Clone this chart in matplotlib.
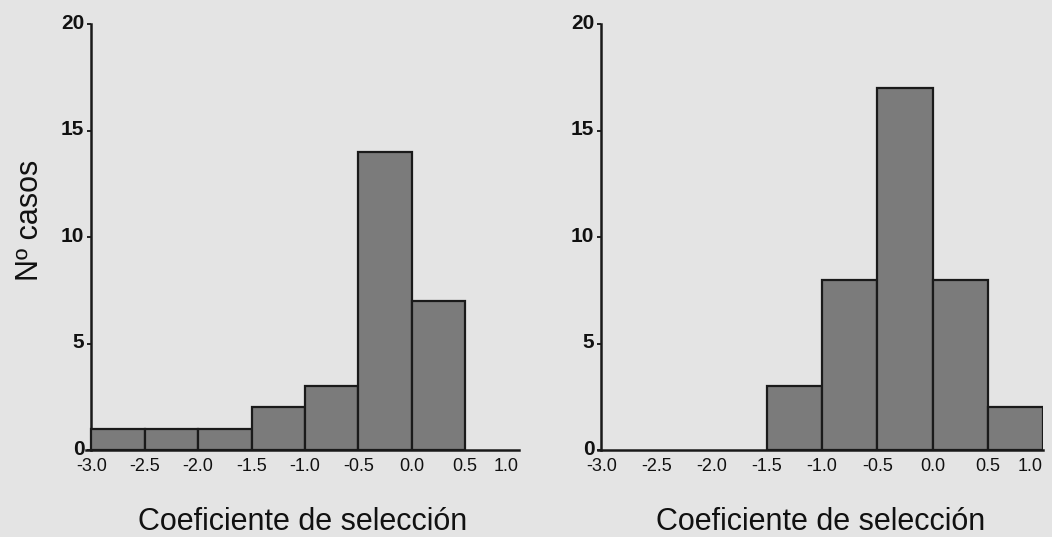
import matplotlib
matplotlib.use("Agg")
import matplotlib.pyplot as plt
from matplotlib.transforms import ScaledTranslation

# histogram data (bin left edges, counts)
left_bins = [-3.0, -2.5, -2.0, -1.5, -1.0, -0.5, 0.0]
left_counts = [1, 1, 1, 2, 3, 14, 7]

right_bins = [-1.5, -1.0, -0.5, 0.0, 0.5]
right_counts = [3, 8, 17, 8, 2]

xticks = [-3.0, -2.5, -2.0, -1.5, -1.0, -0.5, 0.0, 0.5, 1.0]
xticklabels = ["-3.0", "-2.5", "-2.0", "-1.5", "-1.0", "-0.5", "0.0", "0.5", "1.0"]
yticks = [0, 5, 10, 15, 20]

bg = "#e4e4e4"
bar_col = "#7b7b7b"

plt.rcParams['font.family'] = ['Liberation Sans', 'DejaVu Sans']

fig = plt.figure(figsize=(10.52, 5.37), dpi=100, facecolor=bg)

ax1 = fig.add_axes([0.0817, 0.162, 0.4112, 0.793])
ax2 = fig.add_axes([0.5684, 0.162, 0.4230, 0.793])

for ax, bins, counts, xmin in [(ax1, left_bins, left_counts, -3.05),
                               (ax2, right_bins, right_counts, -3.03)]:
    ax.set_facecolor(bg)
    ax.bar(bins, counts, width=0.5, align='edge', color=bar_col,
           edgecolor='#1a1a1a', linewidth=1.6, zorder=3)
    ax.set_xlim(xmin, 1.0)
    ax.set_ylim(0, 20)
    ax.set_xticks(xticks)
    ax.set_xticklabels(xticklabels)
    ax.set_yticks(yticks)
    ax.spines['top'].set_visible(False)
    ax.spines['right'].set_visible(False)
    ax.spines['left'].set_position(('data', -3.0))
    ax.spines['left'].set_linewidth(1.8)
    ax.spines['bottom'].set_linewidth(1.8)
    ax.spines['left'].set_color('#1a1a1a')
    ax.spines['bottom'].set_color('#1a1a1a')
    ax.tick_params(axis='x', length=0, pad=6, labelsize=13, labelcolor='#111111')
    ax.tick_params(axis='y', length=3, width=1.2, pad=2, labelsize=15,
                   labelcolor='#111111')
    # y labels sit a touch above their ticks in the scan
    up = ScaledTranslation(0, 2 / 72, fig.dpi_scale_trans)
    for lab in ax.get_yticklabels():
        lab.set_fontweight('bold')
        lab.set_transform(lab.get_transform() + up)
    ax.get_xticklabels()[-1].set_horizontalalignment('right')
    ax.set_xlabel("Coeficiente de selección", fontsize=22, labelpad=23,
                  color='#111111')

ax1.set_ylabel("Nº casos", fontsize=22, color='#111111')
ax1.yaxis.set_label_coords(-0.094, 0.54)

fig.savefig("out.png", dpi=100, facecolor=bg)
